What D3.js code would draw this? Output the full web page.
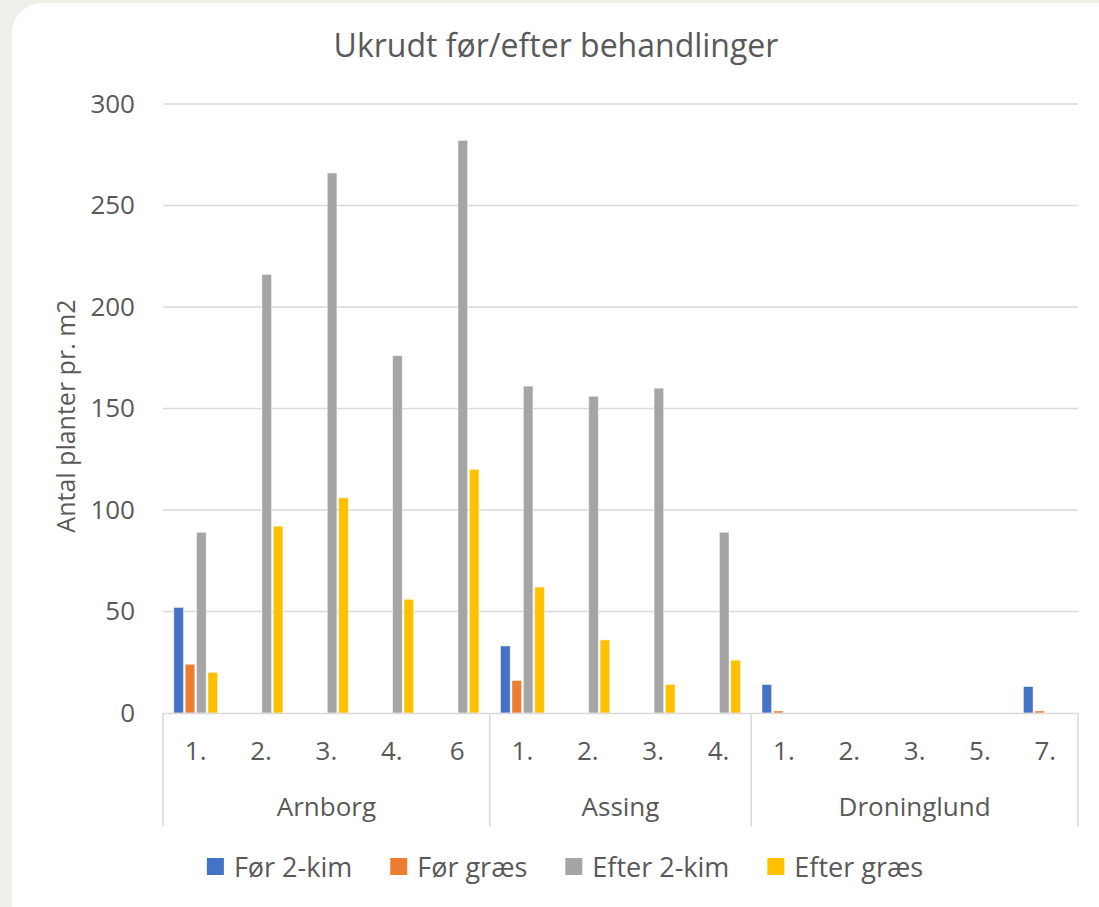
<!DOCTYPE html>
<html>
<head>
<meta charset="utf-8">
<script src="https://cdn.jsdelivr.net/npm/d3@7"></script>
<style>
  html, body { margin: 0; padding: 0; background: #efeee8; }
  text { font-family: "Open Sans", sans-serif; fill: #595959; }
</style>
</head>
<body>
<div id="chart"></div>
<script>
// chart data
const chartTitle = "Ukrudt før/efter behandlinger";
const yTitle = "Antal planter pr. m2";
const groupNames = ["Arnborg", "Assing", "Droninglund"];
const groupSizes = [5, 4, 5];
const categoryLabels = ["1.", "2.", "3.", "4.", "6", "1.", "2.", "3.", "4.", "1.", "2.", "3.", "5.", "7."];
const seriesNames = ["Før 2-kim", "Før græs", "Efter 2-kim", "Efter græs"];
const seriesColors = ["#4472c4", "#ed7d31", "#a5a5a5", "#ffc000"];
const forToKim = [52, 0, 0, 0, 0, 33, 0, 0, 0, 14, 0, 0, 0, 13];
const forGraes = [24, 0, 0, 0, 0, 16, 0, 0, 0, 1, 0, 0, 0, 1];
const efterToKim = [89, 216, 266, 176, 282, 161, 156, 160, 89, 0, 0, 0, 0, 0];
const efterGraes = [20, 92, 106, 56, 120, 62, 36, 14, 26, 0, 0, 0, 0, 0];
const yTicks = [0, 50, 100, 150, 200, 250, 300];

const seriesValues = [forToKim, forGraes, efterToKim, efterGraes];

const WIDTH = 1099;
const HEIGHT = 907;
const plot = { left: 163, right: 1078, top: 104, bottom: 713 };
const LABEL_SIZE = "26px";

let svg = d3
  .select("#chart")
  .append("svg")
  .attr("width", WIDTH)
  .attr("height", HEIGHT);

//Card
svg
  .append("rect")
  .attr("x", 12)
  .attr("y", 3)
  .attr("width", WIDTH + 40)
  .attr("height", HEIGHT + 40)
  .attr("rx", 30)
  .attr("fill", "#ffffff");

//Scales
let x0 = d3
  .scaleBand()
  .domain(d3.range(categoryLabels.length))
  .range([plot.left, plot.right]);

let x1 = d3
  .scaleBand()
  .domain(d3.range(seriesNames.length))
  .range([0, x0.bandwidth()])
  .paddingInner(0.16)
  .paddingOuter(0.95);

let y = d3.scaleLinear().domain([0, 300]).range([plot.bottom, plot.top]);

//Gridlines
svg
  .append("g")
  .selectAll("line")
  .data(yTicks.filter((d) => d > 0))
  .enter()
  .append("line")
  .attr("x1", plot.left)
  .attr("x2", plot.right)
  .attr("y1", (d) => y(d))
  .attr("y2", (d) => y(d))
  .attr("stroke", "#d9d9d9")
  .attr("stroke-width", 1.3);

//Y axis labels
let yAxis = d3.axisLeft(y).tickValues(yTicks).tickSize(0).tickPadding(28);
let yAxisG = svg
  .append("g")
  .attr("transform", "translate(" + plot.left + ",0)")
  .call(yAxis);
yAxisG.select(".domain").remove();
yAxisG
  .selectAll("text")
  .style("font-size", LABEL_SIZE)
  .style("fill", "#595959")
  .style("font-family", "Open Sans, sans-serif");

//Bars
let rows = categoryLabels.map((label, i) => seriesValues.map((vals, s) => ({ i: i, s: s, v: vals[i] })));

svg
  .append("g")
  .selectAll("g")
  .data(rows)
  .enter()
  .append("g")
  .attr("transform", (d, i) => "translate(" + x0(i) + ",0)")
  .selectAll("rect")
  .data((d) => d)
  .enter()
  .append("rect")
  .attr("x", (d) => x1(d.s))
  .attr("y", (d) => y(d.v))
  .attr("width", x1.bandwidth())
  .attr("height", (d) => y(0) - y(d.v))
  .attr("fill", (d) => seriesColors[d.s])
  .attr("stroke", "#ffffff")
  .attr("stroke-opacity", 0.5)
  .attr("stroke-width", 0.8);

//X axis line
svg
  .append("line")
  .attr("x1", plot.left)
  .attr("x2", plot.right)
  .attr("y1", plot.bottom + 0.5)
  .attr("y2", plot.bottom + 0.5)
  .attr("stroke", "#d9d9d9")
  .attr("stroke-width", 1.5);

//Category labels
let xAxis = d3
  .axisBottom(x0)
  .tickFormat((i) => categoryLabels[i])
  .tickSize(0)
  .tickPadding(29);
let xAxisG = svg
  .append("g")
  .attr("transform", "translate(0," + plot.bottom + ")")
  .call(xAxis);
xAxisG.select(".domain").remove();
xAxisG
  .selectAll("text")
  .style("font-size", LABEL_SIZE)
  .style("fill", "#595959")
  .style("font-family", "Open Sans, sans-serif");

//Group separators and labels
let groupStarts = [0];
groupSizes.forEach((n, k) => groupStarts.push(groupStarts[k] + n));
let edgeX = (k) => (k < categoryLabels.length ? x0(k) : plot.right);

svg
  .append("g")
  .selectAll("line")
  .data(groupStarts)
  .enter()
  .append("line")
  .attr("x1", (d) => edgeX(d))
  .attr("x2", (d) => edgeX(d))
  .attr("y1", plot.bottom)
  .attr("y2", 826)
  .attr("stroke", "#d9d9d9")
  .attr("stroke-width", 1.5);

svg
  .append("g")
  .selectAll("text")
  .data(groupNames)
  .enter()
  .append("text")
  .attr("x", (d, k) => (edgeX(groupStarts[k]) + edgeX(groupStarts[k + 1])) / 2)
  .attr("y", 816)
  .attr("text-anchor", "middle")
  .style("font-size", LABEL_SIZE)
  .text((d) => d);

//Title
svg
  .append("text")
  .attr("x", 556)
  .attr("y", 57)
  .attr("text-anchor", "middle")
  .style("font-size", "32px")
  .text(chartTitle);

//Y title
svg
  .append("text")
  .attr("transform", "translate(75,416) rotate(-90)")
  .attr("text-anchor", "middle")
  .style("font-size", "25px")
  .text(yTitle);

//Legend (laid out from text widths, centred under the plot)
let legend = svg.append("g");
let items = legend
  .selectAll("g")
  .data(seriesNames)
  .enter()
  .append("g");

items
  .append("rect")
  .attr("y", 858)
  .attr("width", 17)
  .attr("height", 17)
  .attr("fill", (d, i) => seriesColors[i]);

items
  .append("text")
  .attr("x", 27)
  .attr("y", 877)
  .style("font-size", "27px")
  .text((d) => d);

let cursor = 0;
items.each(function () {
  let item = d3.select(this);
  item.attr("transform", "translate(" + cursor + ",0)");
  cursor += 27 + item.select("text").node().getComputedTextLength() + 38;
});
let legendWidth = cursor - 38;
legend.attr("transform", "translate(" + (565 - legendWidth / 2) + ",0)");
</script>
</body>
</html>
